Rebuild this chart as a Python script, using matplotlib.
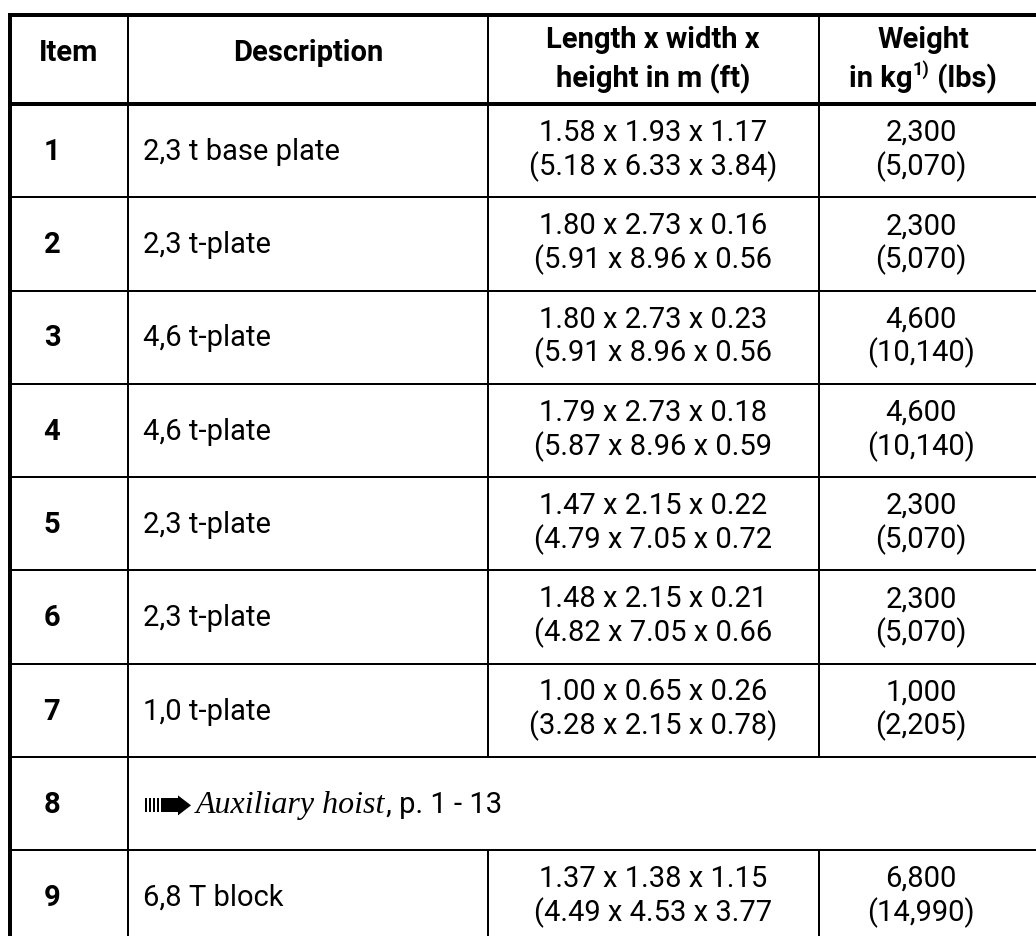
import matplotlib
matplotlib.use("Agg")
import matplotlib.pyplot as plt
from matplotlib.patches import Rectangle, Polygon

# -------------------------------
# TABLE DATA
# -------------------------------
header_single = ["Item", "Description"]
header_dims = ["Length x width x", "height in m (ft)"]
header_weight = ["Weight", "in kg", "1)", " (lbs)"]

items = ["1", "2", "3", "4", "5", "6", "7", "8", "9"]
descriptions = ["2,3 t base plate", "2,3 t-plate", "4,6 t-plate", "4,6 t-plate",
                "2,3 t-plate", "2,3 t-plate", "1,0 t-plate", None, "6,8 T block"]
dims_m = ["1.58 x 1.93 x 1.17", "1.80 x 2.73 x 0.16", "1.80 x 2.73 x 0.23",
          "1.79 x 2.73 x 0.18", "1.47 x 2.15 x 0.22", "1.48 x 2.15 x 0.21",
          "1.00 x 0.65 x 0.26", None, "1.37 x 1.38 x 1.15"]
dims_ft = ["(5.18 x 6.33 x 3.84)", "(5.91 x 8.96 x 0.56", "(5.91 x 8.96 x 0.56",
           "(5.87 x 8.96 x 0.59", "(4.79 x 7.05 x 0.72", "(4.82 x 7.05 x 0.66",
           "(3.28 x 2.15 x 0.78)", None, "(4.49 x 4.53 x 3.77"]
weight_kg = ["2,300", "2,300", "4,600", "4,600", "2,300", "2,300", "1,000", None, "6,800"]
weight_lbs = ["(5,070)", "(5,070)", "(10,140)", "(10,140)", "(5,070)", "(5,070)",
              "(2,205)", None, "(14,990)"]
ref_row = "8"
ref_italic = "Auxiliary hoist"
ref_tail = ", p. 1 - 13"

# -------------------------------
# LAYOUT (pixels)
# -------------------------------
W, H = 1036, 936
left, top = 10, 15
col_edges = [left, 128, 488, 819, W]
header_bottom = 104
row_h = 93.25
thick = 4 * 72 / 100
thin = 2 * 72 / 100
fs = 21

plt.rcParams["font.family"] = ["Roboto", "DejaVu Sans"]

fig = plt.figure(figsize=(W / 100, H / 100), dpi=100)
ax = fig.add_axes([0, 0, 1, 1])
ax.set_xlim(0, W)
ax.set_ylim(H, 0)
ax.axis("off")
fig.canvas.draw()
r = fig.canvas.get_renderer()

row_edges = [header_bottom + i * row_h for i in range(len(items) + 1)]

# horizontal lines
ax.plot([left, W], [top, top], color="black", lw=thick, solid_capstyle="butt")
ax.plot([left, W], [header_bottom, header_bottom], color="black", lw=thick, solid_capstyle="butt")
for y in row_edges[1:]:
    ax.plot([left, W], [y, y], color="black", lw=thin, solid_capstyle="butt")

# vertical lines
ax.plot([left, left], [top - 2, H + 10], color="black", lw=thick, solid_capstyle="butt")
for i, item in enumerate(items):
    y0, y1 = row_edges[i], row_edges[i + 1]
    ax.plot([col_edges[1]] * 2, [y0, y1], color="black", lw=thin)
    if item != ref_row:
        for x in col_edges[2:4]:
            ax.plot([x, x], [y0, y1], color="black", lw=thin)
for x in col_edges[1:4]:
    ax.plot([x, x], [top, header_bottom], color="black", lw=thin)

# -------------------------------
# HEADER TEXT
# -------------------------------
hx = [69, (col_edges[1] + col_edges[2]) / 2, 653, 923]
for x, h in zip(hx[:2], header_single):
    ax.text(x, 61, h, ha="center", va="baseline", fontsize=fs, fontweight="bold")
ax.text(hx[2], 48, header_dims[0], ha="center", va="baseline", fontsize=fs, fontweight="bold")
ax.text(hx[2], 87, header_dims[1], ha="center", va="baseline", fontsize=fs, fontweight="bold")
ax.text(hx[3], 48, header_weight[0], ha="center", va="baseline", fontsize=fs, fontweight="bold")

# "in kg" + superscript + "(lbs)", centred as one piece
parts = [(header_weight[1], fs, 87), (header_weight[2], fs * 0.62, 75), (header_weight[3], fs, 87)]
tmp = [ax.text(0, 0, p, fontsize=s, fontweight="bold") for p, s, _ in parts]
widths = [t.get_window_extent(r).width for t in tmp]
for t in tmp:
    t.remove()
x = hx[3] - sum(widths) / 2
for (p, s, y), w in zip(parts, widths):
    ax.text(x, y, p, ha="left", va="baseline", fontsize=s, fontweight="bold")
    x += w

# -------------------------------
# BODY
# -------------------------------
for i, item in enumerate(items):
    y0 = row_edges[i]
    base1 = y0 + 56
    ax.text(52, base1, item, ha="center", va="baseline", fontsize=fs, fontweight="bold")
    if item == ref_row:
        # striped arrow glyph
        x0 = 145
        yc = y0 + row_h / 2 + 2
        for k in range(4):
            ax.add_patch(Rectangle((x0 + k * 4, yc - 7), 1.6, 14, color="black", lw=0))
        ax.add_patch(Rectangle((x0 + 16, yc - 7), 17, 14, color="black", lw=0))
        ax.add_patch(Polygon([(x0 + 33, yc - 10), (x0 + 46, yc), (x0 + 33, yc + 10)],
                             closed=True, color="black", lw=0))
        t1 = ax.text(x0 + 51, base1, ref_italic, ha="left", va="baseline",
                     fontsize=fs + 2, family="Liberation Serif", style="italic")
        bb = t1.get_window_extent(r)
        ax.text(bb.x1 + 1, base1, ref_tail, ha="left", va="baseline", fontsize=fs)
        continue
    ax.text(143, base1, descriptions[i], ha="left", va="baseline", fontsize=fs)
    ax.text(653, y0 + 37, dims_m[i], ha="center", va="baseline", fontsize=fs)
    ax.text(653, y0 + 71, dims_ft[i], ha="center", va="baseline", fontsize=fs)
    ax.text(921, y0 + 37, weight_kg[i], ha="center", va="baseline", fontsize=fs)
    ax.text(921, y0 + 71, weight_lbs[i], ha="center", va="baseline", fontsize=fs)

fig.savefig("out.png", dpi=100)
